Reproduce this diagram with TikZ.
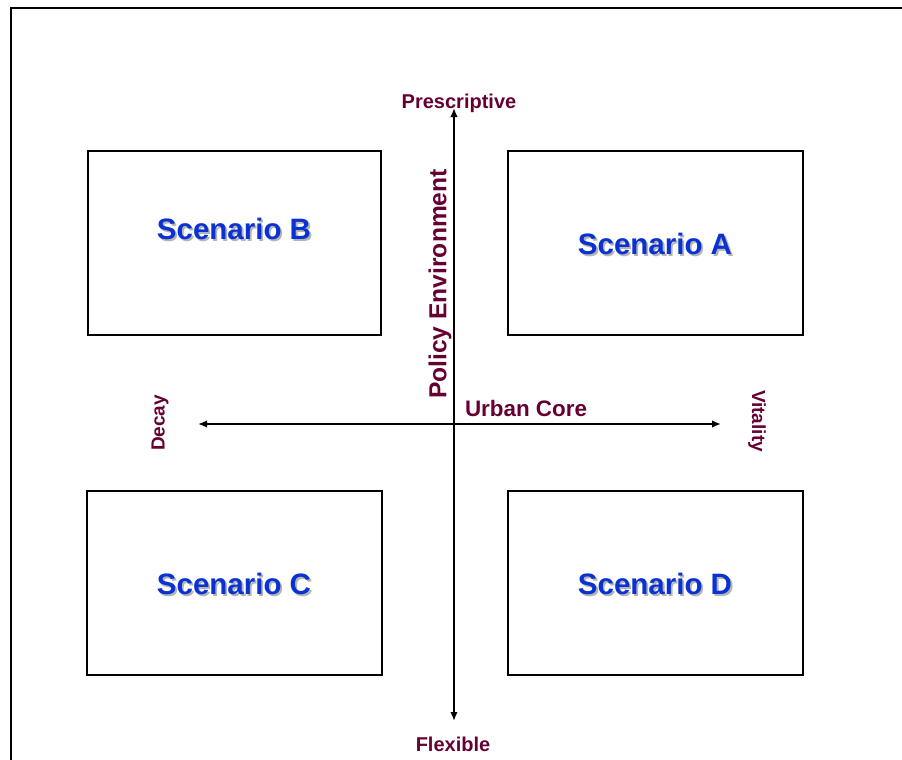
\documentclass[tikz,border=0pt]{standalone}
\usepackage{fontspec}
\setmainfont{Liberation Sans}
\usetikzlibrary{arrows.meta}
\definecolor{scenblue}{HTML}{0A32D2}
\definecolor{axismaroon}{HTML}{660033}
\definecolor{shadowgray}{HTML}{B4B4B4}
\tikzset{
  x=1pt, y=-1pt,
  quad/.style={draw=black, line width=1.4pt, minimum width=#1, minimum height=184pt, inner sep=0pt},
  scen/.style={text=scenblue, font=\bfseries\fontsize{29.5}{32}\selectfont, inner sep=0pt},
  axislabel/.style={text=axismaroon, font=\bfseries\fontsize{#1}{#1}\selectfont, inner sep=0pt},
  axisline/.style={line width=2pt, -{Latex[length=9pt,width=7.5pt]}},
}
% title text with a soft grey drop shadow behind it
\newcommand{\shadowed}[1]{%
  \makebox[0pt][l]{\hspace{1.8pt}\raisebox{-1.8pt}{\textcolor{shadowgray}{#1}}}#1}
\begin{document}
\begin{tikzpicture}
\useasboundingbox (0,0) rectangle (902,760);
% page frame (top and left edges)
\draw[line width=2.4pt] (11,760) -- (11,8) -- (902,8);

% quadrant boxes
\node[quad=293pt] (boxB) at (234.5,243) {};
\node[quad=295pt] (boxA) at (655.5,243) {};
\node[quad=295pt] (boxC) at (234.5,583) {};
\node[quad=295pt] (boxD) at (655.5,583) {};

% scenario titles
\node[scen] (scenB) at (234,230) {\shadowed{Scenario B}};
\node[scen] (scenA) at (655,245) {\shadowed{Scenario A}};
\node[scen] (scenC) at (234,585) {\shadowed{Scenario C}};
\node[scen] (scenD) at (655,585) {\shadowed{Scenario D}};

% axes
\coordinate (centre) at (454,424);
\coordinate (top) at (454,108);
\coordinate (bottom) at (454,721);
\coordinate (left) at (198,424);
\coordinate (right) at (721,424);
\draw[axisline] (centre) -- (top);
\draw[axisline] (centre) -- (bottom);
\draw[axisline] (centre) -- (left);
\draw[axisline] (centre) -- (right);

% axis labels
\node[axislabel=20] (presc) at (459,103) {Prescriptive};
\node[axislabel=20] (flex) at (453,744) {Flexible};
\node[axislabel=19, rotate=90] (decay) at (160,423) {Decay};
\node[axislabel=19, rotate=-90] (vital) at (757,421) {Vitality};
\node[axislabel=22.4] (urban) at (526,408) {Urban Core};
\node[axislabel=24.6, rotate=90] (policy) at (440,284) {Policy Environment};
\end{tikzpicture}
\end{document}
